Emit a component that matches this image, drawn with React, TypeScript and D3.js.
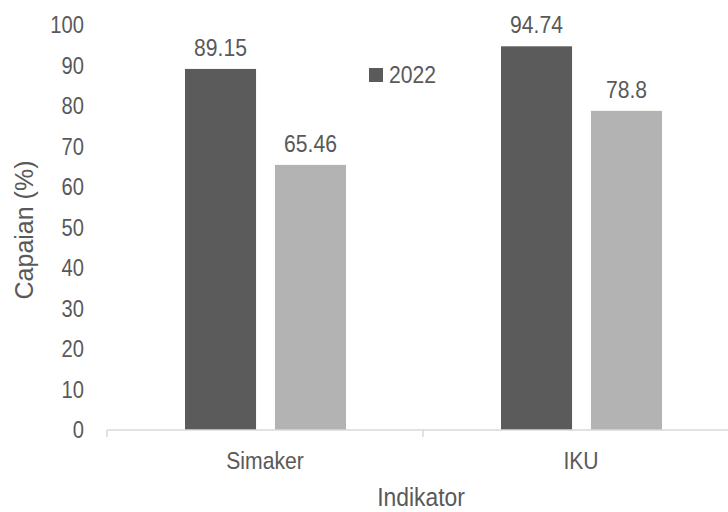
import React from 'react'
import * as d3 from 'd3'

const categories = ['Simaker', 'IKU']
const seriesNames = ['2022', '2021']
const values2022 = [89.15, 94.74]
const valuesOther = [65.46, 78.8]
const yTicks = [0, 10, 20, 30, 40, 50, 60, 70, 80, 90, 100]

const W = 728
const H = 512
const font = "'Liberation Sans', Arial, sans-serif"
const textColor = '#595959'
const colors = ['#5b5b5b', '#b3b3b3']

// horizontally squeezed text, the reference type runs narrower than Arial
function NText({x, y, size, sx = 0.86, anchor = 'start', dy, children}: any) {
  return (
    <g transform={`translate(${x},${y}) scale(${sx},1)`}>
      <text textAnchor={anchor} dy={dy} fontSize={size} fill={textColor}>
        {children}
      </text>
    </g>
  )
}

function App() {
  const left = 107
  const right = 739
  const top = 25
  const bottom = 430

  const x = d3.scaleBand<string>().domain(categories).range([left, right])
  const y = d3.scaleLinear().domain([0, 100]).range([bottom, top])
  const inner = d3.scaleBand<string>().domain(seriesNames).range([78, 239]).paddingInner(0.21)

  const series = [values2022, valuesOther]

  return (
    <svg width={W} height={H} style={{position: 'absolute', left: 0, top: 0, background: '#fff'}} fontFamily={font}>
      {yTicks.map((t) => (
        <NText key={t} x={84} y={y(t)} dy="0.35em" anchor="end" size={24} sx={0.84}>
          {t}
        </NText>
      ))}
      {series.map((vals, si) =>
        categories.map((c, ci) => {
          const bx = (x(c) as number) + (inner(seriesNames[si]) as number)
          return (
            <g key={c + si}>
              <rect x={bx} y={y(vals[ci])} width={inner.bandwidth()} height={bottom - y(vals[ci])} fill={colors[si]} />
              <NText x={bx + inner.bandwidth() / 2} y={y(vals[ci]) - 13} anchor="middle" size={24} sx={0.88}>
                {vals[ci]}
              </NText>
            </g>
          )
        })
      )}
      <line x1={left} x2={W} y1={bottom} y2={bottom} stroke="#d9d9d9" strokeWidth={1.5} />
      {[left, x(categories[1]) as number].map((tx) => (
        <line key={tx} x1={tx} x2={tx} y1={bottom} y2={bottom + 7} stroke="#d9d9d9" strokeWidth={1.5} />
      ))}
      {categories.map((c) => (
        <NText key={c} x={(x(c) as number) + x.bandwidth() / 2} y={469} anchor="middle" size={24} sx={0.88}>
          {c}
        </NText>
      ))}
      <NText x={421} y={506} anchor="middle" size={26} sx={0.88}>
        Indikator
      </NText>
      <text transform={`translate(33, 230) rotate(-90)`} textAnchor="middle" fontSize={25} fill={textColor}>
        Capaian (%)
      </text>
      <rect x={369} y={68} width={14} height={14} fill={colors[0]} />
      <NText x={389} y={75} dy="0.35em" size={24} sx={0.88}>
        {seriesNames[0]}
      </NText>
    </svg>
  )
}

export default App
